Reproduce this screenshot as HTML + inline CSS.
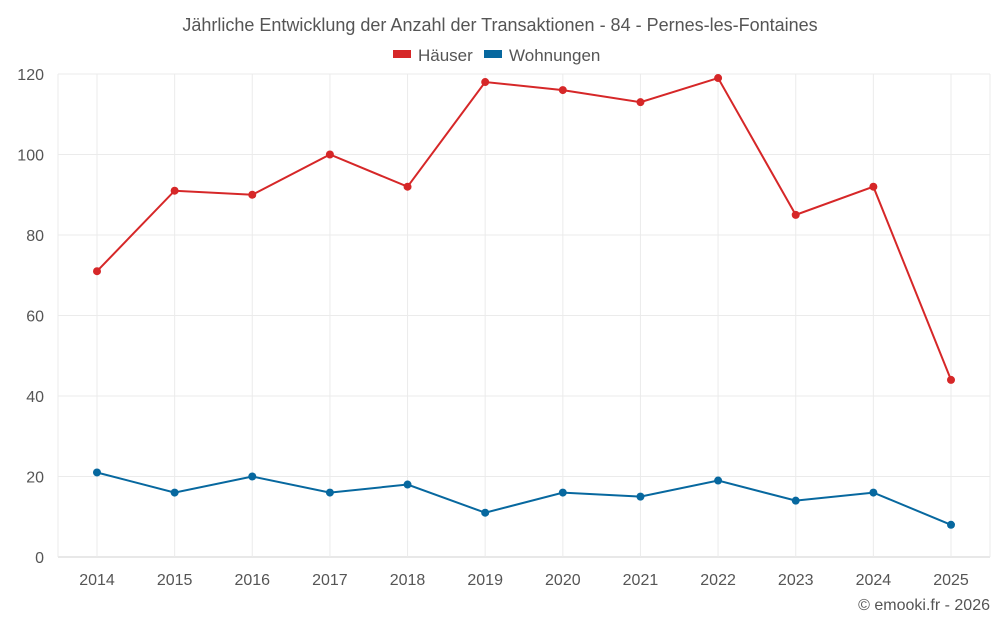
<!DOCTYPE html>
<html><head><meta charset="utf-8"><style>
body{margin:0;background:#fff;font-family:"Liberation Sans",sans-serif;}
svg text{font-family:"Liberation Sans",sans-serif;}
</style></head><body>
<svg id="c" width="1000" height="625" viewBox="0 0 1000 625">
<text x="500" y="31" text-anchor="middle" font-size="18" fill="#555">Jährliche Entwicklung der Anzahl der Transaktionen - 84 - Pernes-les-Fontaines</text>
<g>
<g><rect x="393" y="50" width="18" height="8" fill="#d62728"/><text x="418" y="61" font-size="17" fill="#555">Häuser</text></g>
<g><rect x="484" y="50" width="18" height="8" fill="#07689f"/><text x="509" y="61" font-size="17" fill="#555">Wohnungen</text></g>
</g>
<g id="grid"></g><g id="axes"></g><g id="series"></g>
<text x="990" y="610" text-anchor="end" font-size="16" fill="#555">© emooki.fr - 2026</text>
</svg>
<script>
const years=[2014,2015,2016,2017,2018,2019,2020,2021,2022,2023,2024,2025];
const haeuser=[71,91,90,100,92,118,116,113,119,85,92,44];
const wohnungen=[21,16,20,16,18,11,16,15,19,14,16,8];
const yTicks=[0,20,40,60,80,100,120];
const NS="http://www.w3.org/2000/svg";
const L=58,R=990,T=74,B=557;
const x=i=>97+i*(951-97)/(years.length-1);
const y=v=>B-(v/120)*(B-T);
function mk(t,a,p){const e=document.createElementNS(NS,t);for(const k in a)e.setAttribute(k,a[k]);p.appendChild(e);return e;}
const g=document.getElementById('grid'),ax=document.getElementById('axes'),s=document.getElementById('series');
yTicks.forEach(v=>{
const l=mk('line',{x1:L,x2:R,y1:y(v),y2:y(v),stroke:v?'#ebebeb':'#d0d0d0'},g);


const t=mk('text',{x:44,y:y(v)+6,'text-anchor':'end','font-size':16,fill:'#555'},ax);t.textContent=v;


});
mk('line',{x1:L,x2:L,y1:T,y2:B,stroke:'#ebebeb'},g);
mk('line',{x1:R,x2:R,y1:T,y2:B,stroke:'#ebebeb'},g);
years.forEach((yr,i)=>{
const l=mk('line',{x1:x(i),x2:x(i),y1:T,y2:B,stroke:'#ebebeb'},g);


const t=mk('text',{x:x(i),y:585,'text-anchor':'middle','font-size':16,fill:'#555'},ax);t.textContent=yr;


});
function line(data,color,name){
const p=mk('polyline',{points:data.map((v,i)=>x(i)+','+y(v)).join(' '),fill:'none',stroke:color,'stroke-width':2},s);


data.forEach((v,i)=>{
const c=mk('circle',{cx:x(i),cy:y(v),r:4,fill:color},s);


});
}
line(haeuser,'#d62728','haeuser');
line(wohnungen,'#07689f','wohnungen');
</script>
</body></html>
